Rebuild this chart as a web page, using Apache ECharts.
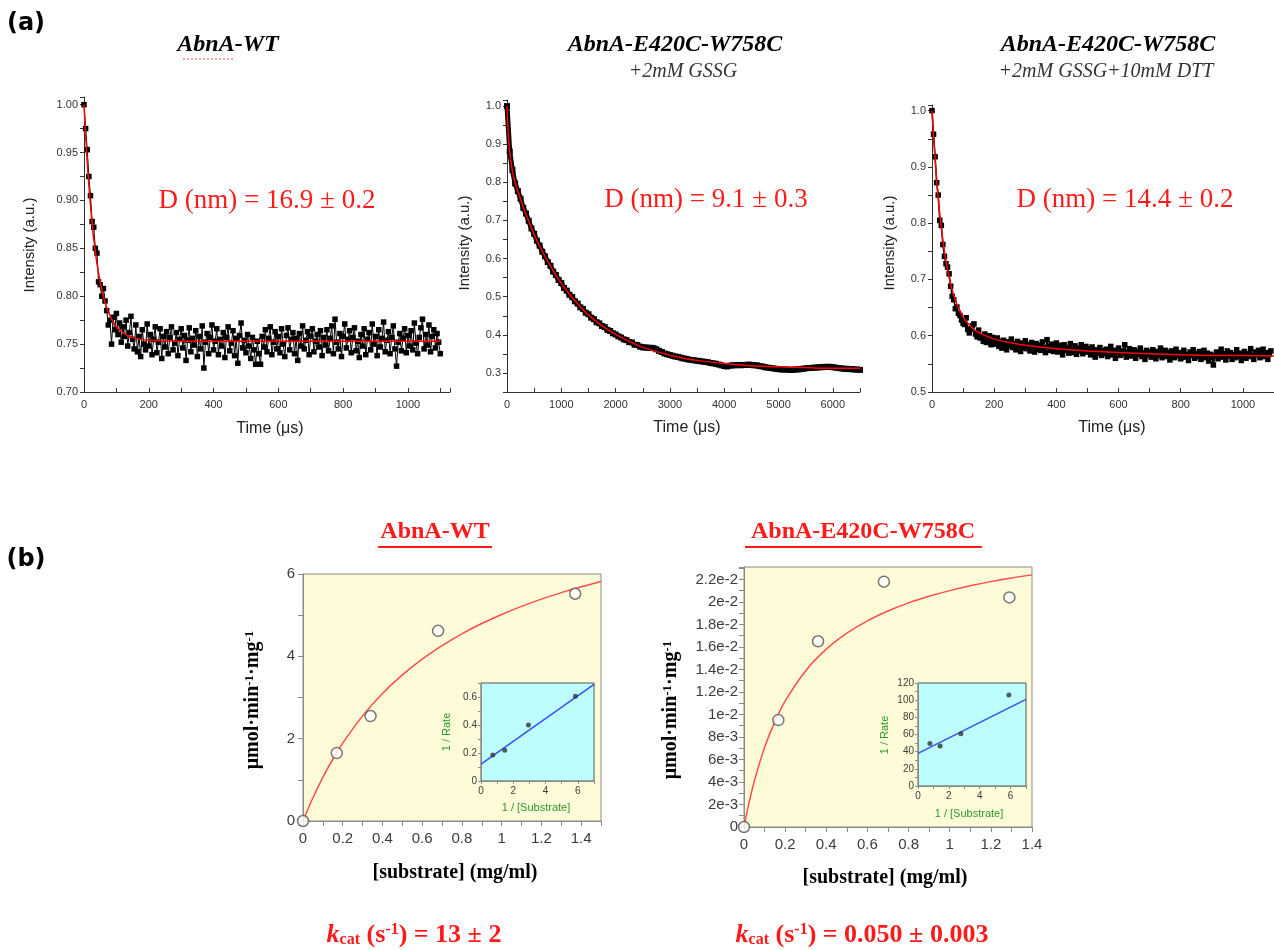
<!DOCTYPE html>
<html><head><meta charset="utf-8">
<script src="https://cdn.jsdelivr.net/npm/echarts@6/dist/echarts.min.js"></script>
<style>html,body{margin:0;padding:0;background:#fff}#c{width:1274px;height:950px}</style>
</head><body><div id="c"></div>
<script>
// ---------- Panel (a) data ----------
// a1: AbnA-WT, sampled every 5 µs from 0 to 1100
const a1Start = 0, a1Step = 5;
const a1Values = [
1.000,0.975,0.953,0.925,0.905,0.878,0.872,0.850,0.845,0.815,0.812,0.800,0.808,0.795,0.785,0.770,0.775,0.750,0.778,0.765,0.782,0.760,0.772,0.752,0.768,0.758,0.775,0.748,0.762,0.779,0.755,
0.745,0.770,0.742,0.758,0.737,0.765,0.750,0.744,0.771,0.748,
0.760,0.739,0.755,0.768,0.741,0.752,0.766,0.735,0.758,0.747,
0.763,0.740,0.757,0.768,0.744,0.751,0.762,0.738,0.755,0.766,
0.746,0.759,0.733,0.754,0.767,0.742,0.756,0.749,0.764,0.737,
0.758,0.745,0.769,0.725,0.752,0.761,0.740,0.757,0.770,0.744,
0.753,0.766,0.739,0.755,0.748,0.762,0.736,0.757,0.768,0.743,
0.751,0.764,0.738,0.756,0.730,0.759,0.772,0.746,0.754,0.741,
0.760,0.748,0.735,0.757,0.744,0.729,0.753,0.740,0.729,0.758,
0.747,0.765,0.742,0.756,0.768,0.739,0.752,0.763,0.745,0.758,
0.741,0.766,0.750,0.737,0.759,0.767,0.744,0.755,0.762,0.740,
0.756,0.733,0.761,0.748,0.769,0.745,0.754,0.763,0.739,0.758,
0.766,0.742,0.753,0.760,0.747,0.764,0.738,0.757,0.749,0.765,
0.743,0.756,0.769,0.740,0.776,0.752,0.745,0.761,0.737,0.758,
0.771,0.746,0.755,0.764,0.741,0.757,0.767,0.743,0.753,0.736,
0.760,0.748,0.766,0.739,0.755,0.762,0.744,0.771,0.750,0.758,
0.738,0.765,0.747,0.756,0.773,0.742,0.754,0.763,0.740,0.757,
0.769,0.745,0.727,0.752,0.761,0.743,0.756,0.766,0.741,0.759,
0.748,0.764,0.744,0.772,0.751,0.740,0.757,0.767,0.776,0.745,
0.760,0.749,0.770,0.742,0.758,0.765,0.746,0.761,0.752,0.740
];
const a1FitT = [0,5,10,15,20,25,30,40,50,60,70,80,90,100,120,140,160,200,300,1100];
const a1FitV = [1.000,0.968,0.940,0.916,0.895,0.876,0.860,0.834,0.815,0.800,0.788,0.780,0.773,0.768,0.762,0.758,0.756,0.754,0.753,0.753];

// a2: AbnA-E420C-W758C + 2mM GSSG, sampled every 50 µs from 0 to 6500
const a2Start = 0, a2Step = 50;
const a2Values = [
1.000,0.881,0.832,0.797,0.777,0.757,0.733,0.718,0.699,0.679,
0.665,0.647,0.634,0.618,0.606,0.591,0.581,0.566,0.557,0.544,
0.536,0.523,0.516,0.505,0.499,0.488,0.482,0.472,0.468,0.458,
0.454,0.445,0.441,0.433,0.430,0.423,0.420,0.413,0.410,0.404,
0.401,0.396,0.393,0.388,0.386,0.381,0.380,0.374,0.373,0.369,
0.367,0.367,0.366,0.366,0.365,0.362,0.358,0.355,0.351,0.349,
0.347,0.345,0.343,0.342,0.340,0.338,0.337,0.335,0.334,0.333,
0.332,0.331,0.330,0.329,0.328,0.326,0.325,0.324,0.322,0.320,
0.318,0.317,0.319,0.320,0.320,0.321,0.320,0.321,0.321,0.322,
0.321,0.320,0.320,0.318,0.317,0.315,0.314,0.313,0.312,0.311,
0.310,0.309,0.309,0.309,0.308,0.308,0.309,0.309,0.310,0.311,
0.312,0.313,0.313,0.314,0.314,0.315,0.315,0.316,0.316,0.316,
0.315,0.314,0.313,0.312,0.311,0.311,0.310,0.310,0.309,0.309,0.308
];
const a2FitT = [0,25,50,100,150,200,300,400,500,600,800,1000,1200,1400,1600,1800,2000,2400,2800,3200,3600,4000,4500,5000,5500,6000,6500];
const a2FitV = [1.000,0.924,0.879,0.829,0.799,0.776,0.735,0.698,0.664,0.633,0.580,0.535,0.498,0.466,0.440,0.419,0.401,0.373,0.354,0.340,0.331,0.325,0.319,0.316,0.314,0.312,0.312];

// a3: AbnA-E420C-W758C + 2mM GSSG + 10mM DTT, sampled every 5 µs from 0 to 1090
const a3Start = 0, a3Step = 5;
const a3Values = [
1.000,0.958,0.918,0.872,0.850,0.805,0.796,0.762,0.741,0.728,0.722,0.710,0.688,0.670,0.664,0.648,0.651,0.640,0.636,0.628,
0.622,0.620,0.632,0.611,0.605,0.612,0.618,0.621,0.603,0.598,0.610,0.596,0.600,0.590,0.603,0.588,0.594,0.600,0.584,0.597,0.590,
0.585,0.596,0.581,0.590,0.578,0.592,0.584,0.575,0.589,0.582,
0.594,0.579,0.586,0.575,0.590,0.583,0.572,0.587,0.578,0.591,
0.577,0.584,0.573,0.588,0.580,0.571,0.586,0.576,0.583,0.574,
0.589,0.579,0.570,0.593,0.581,0.574,0.585,0.572,0.580,0.587,
0.571,0.583,0.576,0.566,0.584,0.574,0.579,0.569,0.586,0.575,
0.570,0.582,0.567,0.578,0.573,0.584,0.568,0.576,0.581,0.571,
0.577,0.566,0.580,0.572,0.562,0.575,0.569,0.579,0.565,0.573,
0.568,0.576,0.563,0.571,0.581,0.566,0.574,0.560,0.572,0.578,
0.565,0.573,0.568,0.584,0.562,0.571,0.577,0.564,0.569,0.575,
0.560,0.572,0.567,0.578,0.563,0.570,0.558,0.574,0.566,0.571,
0.562,0.575,0.567,0.559,0.572,0.565,0.578,0.561,0.569,0.574,
0.563,0.570,0.557,0.573,0.566,0.561,0.576,0.564,0.570,0.559,
0.568,0.574,0.562,0.567,0.556,0.571,0.565,0.575,0.560,0.568,
0.563,0.572,0.558,0.566,0.574,0.561,0.569,0.555,0.567,0.562,
0.548,0.565,0.571,0.559,0.566,0.576,0.562,0.568,0.557,0.573,
0.564,0.570,0.558,0.567,0.561,0.575,0.563,0.569,0.556,0.566,
0.572,0.560,0.568,0.563,0.577,0.565,0.558,0.571,0.566,0.574,
0.561,0.569,0.576,0.563,0.570,0.558,0.567,0.573
];
const a3FitT = [0,10,20,30,40,50,60,70,80,100,120,140,160,200,250,300,400,500,600,700,800,900,1000,1100];
const a3FitV = [1.000,0.913,0.844,0.791,0.750,0.717,0.692,0.672,0.656,0.633,0.619,0.609,0.603,0.594,0.588,0.583,0.577,0.573,0.570,0.568,0.566,0.565,0.565,0.564];

// ---------- Panel (b) data ----------
const b1S = [0, 0.17, 0.34, 0.68, 1.37];
const b1V = [0, 1.65, 2.55, 4.62, 5.52];
const b1FitS = [0,0.05,0.1,0.15,0.2,0.3,0.4,0.5,0.6,0.7,0.8,0.9,1.0,1.1,1.2,1.3,1.4,1.5];
const b1FitV = [0,0.566,1.062,1.500,1.890,2.553,3.096,3.549,3.933,4.262,4.547,4.797,5.017,5.213,5.389,5.547,5.690,5.820];
const b1InvS = [0.73, 1.47, 2.94, 5.85];
const b1InvV = [0.185, 0.22, 0.40, 0.605];
const b1LineX = [0, 7];
const b1LineY = [0.12, 0.69];

const b2S = [0, 0.167, 0.36, 0.68, 1.29];
const b2V = [0, 0.0095, 0.0165, 0.0218, 0.0204];
const b2FitS = [0,0.02,0.05,0.1,0.15,0.2,0.3,0.4,0.5,0.6,0.7,0.8,0.9,1.0,1.1,1.2,1.3,1.4];
const b2FitV = [0,0.00179,0.00406,0.00706,0.00936,0.01119,0.01389,0.01580,0.01722,0.01832,0.01919,0.01991,0.02050,0.02100,0.02143,0.02180,0.02212,0.02240];
const b2InvS = [0.77, 1.43, 2.78, 5.89];
const b2InvV = [49.5, 46.5, 61, 106];
const b2LineX = [0, 7];
const b2LineY = [38, 101];
const b2YTickLabels = ['0','2e-3','4e-3','6e-3','8e-3','1e-2','1.2e-2','1.4e-2','1.6e-2','1.8e-2','2e-2','2.2e-2'];

// ---------- helpers ----------
const isMult = (v, m) => Math.abs(v / m - Math.round(v / m)) < 1e-6;
const zip = (xs, ys) => xs.map((x, i) => [x, ys[i]]);
const stepped = (start, step, ys) => ys.map((y, i) => [start + i * step, y]);

const SANS = 'Liberation Sans, Arial, sans-serif';
const SERIF = 'Liberation Serif, Times New Roman, serif';

function axisA(dim, gi, min, max, interval, every, dec) {
  return {
    type: 'value', gridIndex: gi, min, max, interval,
    axisLine: { show: true, onZero: false, lineStyle: { color: '#333', width: 1 } },
    axisTick: { show: true, inside: dim === 'x', length: 4, lineStyle: { color: '#333' } },
    splitLine: { show: false },
    axisLabel: {
      margin: dim === 'x' ? 7 : 6, fontFamily: SANS, fontSize: 11, color: '#333',
      formatter: v => isMult(v, every) ? (dec === 0 ? String(Math.round(v)) : v.toFixed(dec)) : ''
    }
  };
}
function axisB(gi, min, max, interval, every, fmt, fs, tickLen, margin) {
  return {
    type: 'value', gridIndex: gi, min, max, interval,
    axisLine: { show: true, onZero: false, lineStyle: { color: '#8a8a8a', width: 1 } },
    axisTick: { show: true, inside: false, length: tickLen, lineStyle: { color: '#8a8a8a' } },
    splitLine: { show: false },
    axisLabel: {
      margin, fontFamily: SANS, fontSize: fs, color: '#3c3c3c',
      formatter: v => isMult(v, every) ? fmt(v) : ''
    }
  };
}
const trim1 = v => String(+v.toFixed(1));

const grids = [
  { left: 84, top: 97, width: 366, height: 295 },
  { left: 507, top: 100, width: 353, height: 292 },
  { left: 932, top: 105, width: 342, height: 287 },
  { left: 303, top: 574, width: 298, height: 247, show: true, backgroundColor: '#FDFBD8', borderColor: '#8a8a8a', borderWidth: 1 },
  { left: 481, top: 683, width: 113, height: 98, show: true, backgroundColor: '#BDFDFD', borderColor: '#555', borderWidth: 1 },
  { left: 744, top: 567, width: 288, height: 260, show: true, backgroundColor: '#FDFBD8', borderColor: '#8a8a8a', borderWidth: 1 },
  { left: 918, top: 683, width: 108, height: 103, show: true, backgroundColor: '#BDFDFD', borderColor: '#555', borderWidth: 1 }
].map(g => Object.assign({ containLabel: false, outerBoundsMode: 'none' }, g));

const xAxes = [
  axisA('x', 0, 0, 1130, 100, 200, 0),
  axisA('x', 1, 0, 6500, 500, 1000, 0),
  axisA('x', 2, 0, 1100, 100, 200, 0),
  axisB(3, 0, 1.5, 0.1, 0.2, trim1, 15, 5, 10),
  axisB(4, 0, 7, 1, 2, v => String(Math.round(v)), 10, 3, 5),
  axisB(5, 0, 1.4, 0.1, 0.2, trim1, 15, 5, 10),
  axisB(6, 0, 7, 1, 2, v => String(Math.round(v)), 10, 3, 5)
];
const yAxes = [
  axisA('y', 0, 0.70, 1.008, 0.025, 0.05, 2),
  axisA('y', 1, 0.25, 1.016, 0.05, 0.1, 1),
  axisA('y', 2, 0.5, 1.01, 0.05, 0.1, 1),
  axisB(3, 0, 6, 1, 2, v => String(Math.round(v)), 15, 5, 8),
  axisB(4, 0, 0.7, 0.1, 0.2, v => v === 0 ? '0' : trim1(v), 10, 3, 4),
  axisB(5, 0, 0.0231, 0.001, 0.002, v => b2YTickLabels[Math.round(v / 0.002)], 15, 5, 6),
  axisB(6, 0, 120, 10, 20, v => String(Math.round(v)), 10, 3, 4)
];

function dataSeries(i, data, size, lw) {
  return { type: 'line', xAxisIndex: i, yAxisIndex: i, data, symbol: 'rect', symbolSize: size,
    showAllSymbol: true, itemStyle: { color: '#000' }, lineStyle: { color: '#000', width: lw }, z: 2 };
}
function fitSeries(i, data, color, w) {
  return { type: 'line', xAxisIndex: i, yAxisIndex: i, data, symbol: 'none', smooth: 0.3,
    lineStyle: { color, width: w }, z: 5 };
}
function openPts(i, data) {
  return { type: 'scatter', xAxisIndex: i, yAxisIndex: i, data, symbol: 'circle', symbolSize: 11,
    itemStyle: { color: '#fff', borderColor: '#555', borderWidth: 1.5 }, z: 6 };
}
function dots(i, data) {
  return { type: 'scatter', xAxisIndex: i, yAxisIndex: i, data, symbol: 'circle', symbolSize: 5,
    itemStyle: { color: '#333' }, z: 6 };
}

const series = [
  dataSeries(0, stepped(a1Start, a1Step, a1Values), 5.5, 1),
  fitSeries(0, zip(a1FitT, a1FitV), '#ff0000', 1.5),
  dataSeries(1, stepped(a2Start, a2Step, a2Values), 6, 5),
  fitSeries(1, zip(a2FitT, a2FitV), '#ff0000', 1.5),
  dataSeries(2, stepped(a3Start, a3Step, a3Values), 5.5, 1.5),
  fitSeries(2, zip(a3FitT, a3FitV), '#ff0000', 1.5),
  fitSeries(3, zip(b1FitS, b1FitV), '#ff4d4d', 1.5),
  openPts(3, zip(b1S, b1V)),
  { type: 'line', xAxisIndex: 4, yAxisIndex: 4, data: zip(b1LineX, b1LineY), symbol: 'none', lineStyle: { color: '#3a4dff', width: 1.5 } },
  dots(4, zip(b1InvS, b1InvV)),
  fitSeries(5, zip(b2FitS, b2FitV), '#ff4d4d', 1.5),
  openPts(5, zip(b2S, b2V)),
  { type: 'line', xAxisIndex: 6, yAxisIndex: 6, data: zip(b2LineX, b2LineY), symbol: 'none', lineStyle: { color: '#3a4dff', width: 1.5 } },
  dots(6, zip(b2InvS, b2InvV))
];

function txt(x, y, text, o) {
  o = o || {};
  return { type: 'text', x, y, rotation: o.rot || 0, z: 100,
    style: Object.assign({ text, fill: o.fill || '#000', fontFamily: o.family || SANS, fontSize: o.size || 14,
      fontWeight: o.weight || 'normal', fontStyle: o.style || 'normal',
      textAlign: o.align || 'center', textVerticalAlign: 'middle', align: o.align || 'center', verticalAlign: 'middle' }, o.extra || {}) };
}
const RED = '#ff1a1a';
const unitRich = {
  n: { fontFamily: SERIF, fontWeight: 'bold', fontSize: 20, fill: '#000', color: '#000' },
  s: { fontFamily: SERIF, fontWeight: 'bold', fontSize: 13, fill: '#000', color: '#000', verticalAlign: 'top' }
};
const kRich = {
  k: { fontFamily: SERIF, fontWeight: 'bold', fontStyle: 'italic', fontSize: 26, fill: RED, color: RED },
  sub: { fontFamily: SERIF, fontWeight: 'bold', fontSize: 16, fill: RED, color: RED, verticalAlign: 'bottom' },
  sup: { fontFamily: SERIF, fontWeight: 'bold', fontSize: 16, fill: RED, color: RED, verticalAlign: 'top' },
  n: { fontFamily: SERIF, fontWeight: 'bold', fontSize: 26, fill: RED, color: RED }
};
const GREEN = '#2e9a2e';

const graphic = [
  txt(26, 24, '(a)', { size: 24, weight: 'bold', family: 'DejaVu Sans, sans-serif' }),
  txt(26, 560, '(b)', { size: 24, weight: 'bold', family: 'DejaVu Sans, sans-serif' }),
  // panel a titles
  txt(228, 45, 'AbnA-WT', { family: SERIF, size: 24, weight: 'bold', style: 'italic' }),
  { type: 'line', z: 100, shape: { x1: 183, y1: 59, x2: 234, y2: 59 }, style: { stroke: '#ff4040', lineWidth: 1, lineDash: [2, 2] } },
  txt(675, 45, 'AbnA-E420C-W758C', { family: SERIF, size: 24, weight: 'bold', style: 'italic' }),
  txt(683, 72, '+2mM GSSG', { family: SERIF, size: 20, style: 'italic', fill: '#333' }),
  txt(1108, 45, 'AbnA-E420C-W758C', { family: SERIF, size: 24, weight: 'bold', style: 'italic' }),
  txt(1106, 72, '+2mM GSSG+10mM DTT', { family: SERIF, size: 20, style: 'italic', fill: '#333' }),
  // D annotations
  txt(267, 201, 'D (nm) = 16.9 ± 0.2', { family: SERIF, size: 27, fill: RED }),
  txt(706, 200, 'D (nm) = 9.1 ± 0.3', { family: SERIF, size: 27, fill: RED }),
  txt(1125, 200, 'D (nm) = 14.4 ± 0.2', { family: SERIF, size: 27, fill: RED }),
  // panel a axis names
  txt(30, 245, 'Intensity (a.u.)', { size: 15, rot: Math.PI / 2, fill: '#222' }),
  txt(465, 243, 'Intensity (a.u.)', { size: 15, rot: Math.PI / 2, fill: '#222' }),
  txt(890, 243, 'Intensity (a.u.)', { size: 15, rot: Math.PI / 2, fill: '#222' }),
  txt(270, 429, 'Time (μs)', { size: 16, fill: '#222' }),
  txt(687, 428, 'Time (μs)', { size: 16, fill: '#222' }),
  txt(1112, 428, 'Time (μs)', { size: 16, fill: '#222' }),
  // panel b titles
  txt(435, 532, 'AbnA-WT', { family: SERIF, size: 24, weight: 'bold', fill: RED }),
  { type: 'line', z: 100, shape: { x1: 378, y1: 547, x2: 492, y2: 547 }, style: { stroke: RED, lineWidth: 2 } },
  txt(863, 532, 'AbnA-E420C-W758C', { family: SERIF, size: 24, weight: 'bold', fill: RED }),
  { type: 'line', z: 100, shape: { x1: 745, y1: 547, x2: 982, y2: 547 }, style: { stroke: RED, lineWidth: 2 } },
  // panel b axis names
  txt(253, 700, '{n|μmol·min}{s|-1}{n|·mg}{s|-1}', { rot: Math.PI / 2, extra: { rich: unitRich } }),
  txt(671, 710, '{n|μmol·min}{s|-1}{n|·mg}{s|-1}', { rot: Math.PI / 2, extra: { rich: unitRich } }),
  txt(455, 873, '[substrate] (mg/ml)', { family: SERIF, size: 20, weight: 'bold' }),
  txt(885, 878, '[substrate] (mg/ml)', { family: SERIF, size: 20, weight: 'bold' }),
  // inset axis names
  txt(447, 732, '1 / Rate', { size: 11, rot: Math.PI / 2, fill: GREEN }),
  txt(536, 808, '1 / [Substrate]', { size: 11, fill: GREEN }),
  txt(885, 735, '1 / Rate', { size: 11, rot: Math.PI / 2, fill: GREEN }),
  txt(969, 814, '1 / [Substrate]', { size: 11, fill: GREEN }),
  // kcat
  txt(414, 935, '{k|k}{sub|cat}{n| (s}{sup|-1}{n|) = 13 ± 2}', { fill: RED, extra: { rich: kRich } }),
  txt(862, 935, '{k|k}{sub|cat}{n| (s}{sup|-1}{n|) = 0.050 ± 0.003}', { fill: RED, extra: { rich: kRich } })
];

const chart = echarts.init(document.getElementById('c'), null, { renderer: 'canvas' });
chart.setOption({
  backgroundColor: '#fff',
  animation: false,
  grid: grids,
  xAxis: xAxes,
  yAxis: yAxes,
  series,
  graphic
});
</script></body></html>
